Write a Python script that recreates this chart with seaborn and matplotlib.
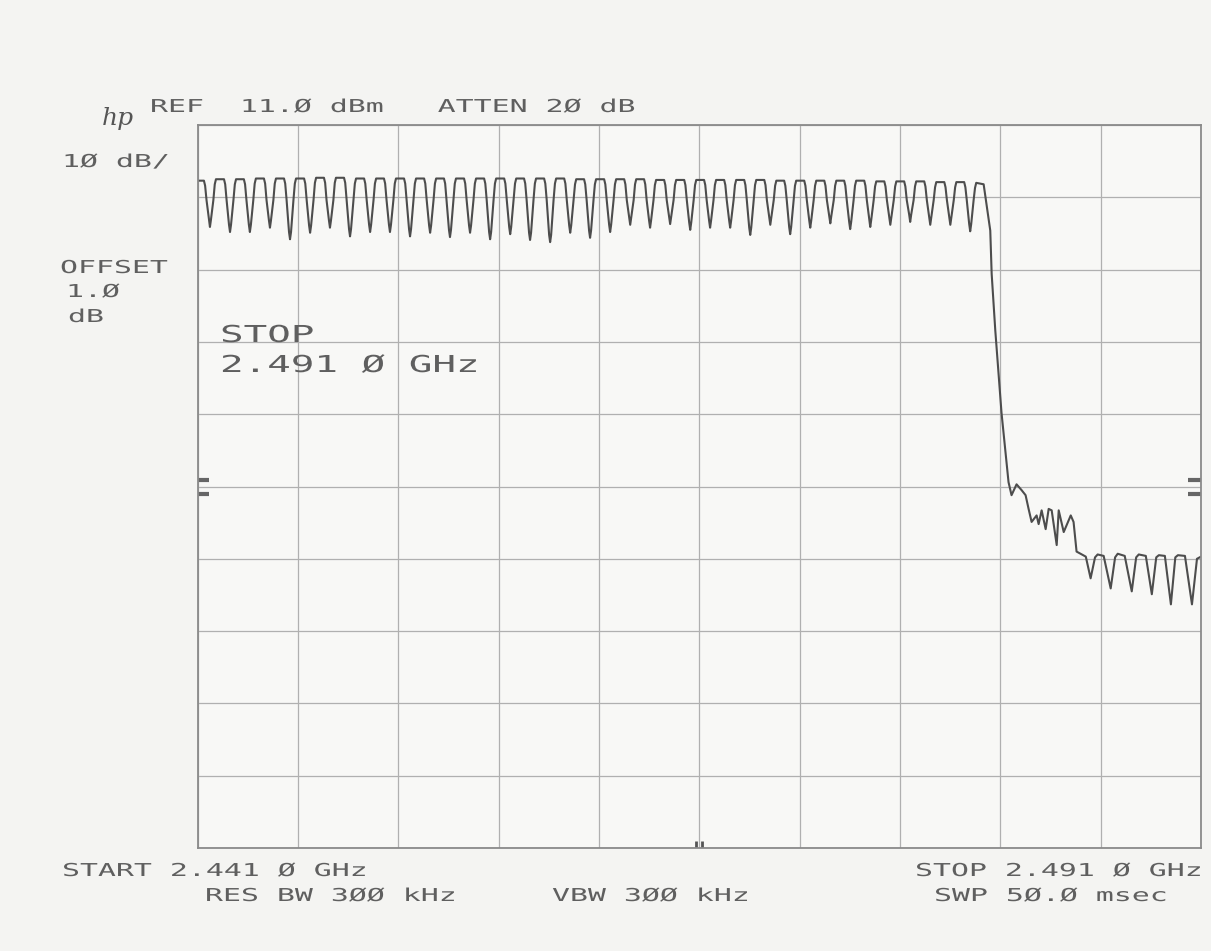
import matplotlib
matplotlib.use("Agg")
import matplotlib.pyplot as plt
import seaborn as sns
import pandas as pd
from matplotlib.patheffects import AbstractPathEffect
from matplotlib.transforms import Affine2D

# ---------------- data ----------------
start_mhz = 2441.0
stop_mhz = 2491.0
ref_level_dbm = 11.0
db_per_div = 10.0
n_div = 10

# pass-band ripple: centre of every dip, its level, and the plateau that follows it
dip_mhz = [2441.62, 2442.62, 2443.61, 2444.61, 2445.61, 2446.61, 2447.60, 2448.60,
           2449.60, 2450.59, 2451.59, 2452.59, 2453.58, 2454.58, 2455.58, 2456.58,
           2457.57, 2458.57, 2459.57, 2460.56, 2461.56, 2462.56, 2463.55, 2464.55,
           2465.55, 2466.54, 2467.54, 2468.54, 2469.54, 2470.53, 2471.53, 2472.53,
           2473.52, 2474.52, 2475.52, 2476.51, 2477.51, 2478.51, 2479.50]
dip_dbm = [-3.1, -3.8, -3.8, -3.2, -4.8, -3.9, -3.2, -4.4, -3.8, -3.8, -4.4, -3.9,
           -4.5, -3.9, -4.8, -4.1, -4.9, -5.2, -3.9, -4.6,
           -3.8, -2.8, -3.2, -2.7, -3.5, -3.2, -3.2, -4.2, -2.8, -4.1, -3.2, -2.6,
           -3.4, -3.1, -2.8, -2.4, -2.8, -2.8, -3.7]
peak_dbm = [3.5, 3.5, 3.6, 3.6, 3.6, 3.7, 3.7, 3.6, 3.6, 3.6, 3.6, 3.6, 3.6,
            3.6, 3.6, 3.6, 3.6, 3.6, 3.5, 3.5, 3.5, 3.5, 3.4, 3.4, 3.4, 3.4,
            3.4, 3.4, 3.3, 3.3, 3.3, 3.3, 3.3, 3.2, 3.2, 3.2, 3.1, 3.1, 3.0]
lead_in_dbm = 3.3

# roll-off and stop band
edge_mhz = [2480.17, 2480.50, 2480.57, 2480.75, 2481.06, 2481.41, 2481.56, 2481.81,
            2482.06, 2482.26, 2482.41, 2482.56, 2482.81, 2482.91, 2483.06, 2483.26,
            2483.41, 2483.56, 2483.81, 2483.91, 2484.16, 2484.51, 2484.65, 2484.80,
            2485.26, 2485.50, 2485.72, 2485.85, 2486.15, 2486.50, 2486.72, 2486.85,
            2487.20, 2487.55, 2487.77, 2487.90, 2488.25, 2488.55, 2488.77, 2488.90,
            2489.20, 2489.50, 2489.72, 2489.85, 2490.20, 2490.55, 2490.80, 2491.00]
edge_dbm = [2.8, -3.6, -9.6, -17.4, -28.8, -38.4, -40.2, -38.7,
            -39.5, -40.2, -42.1, -43.9, -43.0, -44.2, -42.3, -44.9,
            -42.1, -42.3, -47.1, -42.3, -45.3, -43.0, -43.9, -48.0,
            -48.7, -51.7, -48.8, -48.4, -48.6, -53.1, -48.8, -48.3, -48.6,
            -53.5, -48.8, -48.4, -48.6, -53.9, -48.8, -48.5, -48.6, -55.3,
            -48.8, -48.5, -48.6, -55.3, -49.0, -48.7]

level_marks_dbm = [-38.1, -40.0]
center_mark_mhz = [2465.85, 2466.15]

small_texts = ["REF  11.Ø dBm   ATTEN 2Ø dB", "1Ø dB/", "OFFSET", "1.Ø", "dB",
               "START 2.441 Ø GHz", "RES BW 3ØØ kHz", "VBW 3ØØ kHz",
               "STOP 2.491 Ø GHz", "SWP 5Ø.Ø msec"]
small_pos = [(150, 112), (62, 167), (60, 273), (66, 297), (68, 322),
             (62, 876), (205, 901), (552, 901), (915, 876), (934, 901)]
big_texts = ["STOP", "2.491 Ø GHz"]
big_pos = [(220, 342), (220, 372)]

# ---------------- build the trace ----------------
xs, ys = [start_mhz], [lead_in_dbm]
for d, lv, pk in zip(dip_mhz, dip_dbm, peak_dbm):
    prev_pk = ys[-1]
    xs += [d - 0.30, d - 0.24, d - 0.17, d - 0.05, d, d + 0.05, d + 0.17, d + 0.24, d + 0.30]
    ys += [prev_pk, prev_pk - 0.7, 0.6, lv + 1.0, lv, lv + 1.0, 0.6, pk - 0.7, pk]
xs += edge_mhz
ys += edge_dbm
trace = pd.DataFrame({"freq_mhz": xs, "level_dbm": ys})

# ---------------- figure ----------------
W, H = 1211, 951
sns.set_theme(style="white")
plt.rcParams["font.family"] = ["DejaVu Sans Mono", "DejaVu Sans"]

fig = plt.figure(figsize=(W / 100, H / 100), dpi=100, facecolor="#f4f4f2")
ax = fig.add_axes([197.5 / W, 1 - 848 / H, (1201 - 197.5) / W, (848 - 125) / H])
ax.set_facecolor("#f8f8f6")

bottom_dbm = ref_level_dbm - n_div * db_per_div
sns.lineplot(data=trace, x="freq_mhz", y="level_dbm", ax=ax, sort=False,
             estimator=None, color="#4d4d4d", linewidth=1.5)

ax.set_xlim(start_mhz, stop_mhz)
ax.set_ylim(bottom_dbm, ref_level_dbm)
ax.set_xticks([start_mhz + i * (stop_mhz - start_mhz) / n_div for i in range(n_div + 1)])
ax.set_yticks([bottom_dbm + i * db_per_div for i in range(n_div + 1)])
ax.grid(True, color="#b0b0b0", linewidth=0.9)
ax.tick_params(length=0, labelbottom=False, labelleft=False)
ax.set_xlabel("")
ax.set_ylabel("")
for sp in ax.spines.values():
    sp.set_color("#8a8a8a")
    sp.set_linewidth(1.3)

ax.hlines(level_marks_dbm, 0.0, 0.011, transform=ax.get_yaxis_transform(),
          color="#666666", linewidth=3)
ax.hlines(level_marks_dbm, 0.987, 1.0, transform=ax.get_yaxis_transform(),
          color="#666666", linewidth=3)
ax.vlines(center_mark_mhz, bottom_dbm, bottom_dbm + 0.9, color="#555555", linewidth=2)


class Stretch(AbstractPathEffect):
    """Widen glyphs horizontally like the plotter's lettering."""
    def __init__(self, sx):
        super().__init__()
        self.sx = sx

    def draw_path(self, renderer, gc, tpath, affine, rgbFace=None):
        renderer.draw_path(gc, tpath, Affine2D().scale(self.sx, 1.0) + affine, rgbFace)


txt_color = "#5f5f5f"
for s, (px, py) in zip(small_texts, small_pos):
    fig.text(px / W, 1 - py / H, s, ha="left", va="baseline", fontsize=12.8,
             color=txt_color, path_effects=[Stretch(1.68)])
for s, (px, py) in zip(big_texts, big_pos):
    fig.text(px / W, 1 - py / H, s, ha="left", va="baseline", fontsize=16.8,
             color=txt_color, path_effects=[Stretch(1.68)])

fig.text(102 / W, 1 - 125 / H, "hp", ha="left", va="baseline", fontsize=18,
         style="italic", family="DejaVu Serif", color="#555555")

fig.savefig("out.png", dpi=100, facecolor=fig.get_facecolor())
